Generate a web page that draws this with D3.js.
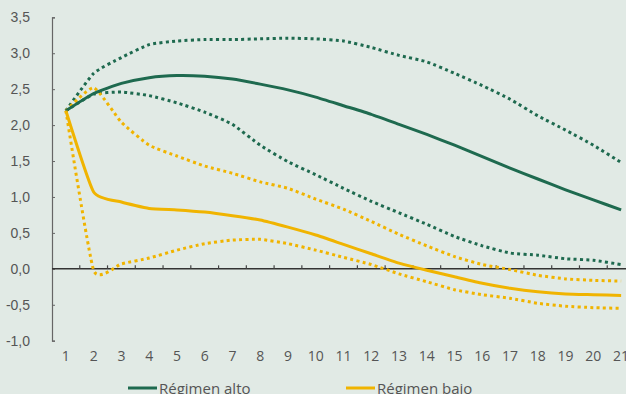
<!DOCTYPE html>
<html lang="es">
<head>
<meta charset="UTF-8">
<title>Régimen alto / bajo</title>
<script src="https://d3js.org/d3.v7.min.js"></script>
<style>
    html, body { margin: 0; padding: 0; background: #e1eae5; overflow: hidden; }
    svg { display: block; font-family: "Open Sans", sans-serif; }
    .tick-label { fill: #555; font-size: 14px; }
    .legend-text { fill: #555; font-size: 15px; }
</style>
</head>
<body>
<svg id="chart" width="626" height="394"></svg>
<script>
    // periods on the x axis
    const periods = ["1","2","3","4","5","6","7","8","9","10","11","12","13","14","15","16","17","18","19","20","21"];
    const yTicks = [-1, -0.5, 0, 0.5, 1, 1.5, 2, 2.5, 3, 3.5];

    // Régimen alto
    const altoMid = [2.2,2.44,2.58,2.66,2.69,2.68,2.64,2.57,2.49,2.39,2.27,2.15,2.01,1.87,1.72,1.56,1.40,1.25,1.10,0.96,0.82];
    const altoUp  = [2.2,2.72,2.94,3.12,3.17,3.19,3.19,3.20,3.21,3.20,3.17,3.08,2.97,2.88,2.72,2.55,2.36,2.13,1.93,1.72,1.48];
    const altoLow = [2.2,2.43,2.46,2.41,2.31,2.18,2.01,1.72,1.49,1.31,1.12,0.94,0.78,0.62,0.45,0.32,0.22,0.19,0.14,0.12,0.06];

    // Régimen bajo
    const bajoMid = [2.2,1.07,0.93,0.84,0.82,0.79,0.74,0.68,0.58,0.47,0.34,0.21,0.08,-0.02,-0.11,-0.20,-0.27,-0.32,-0.35,-0.36,-0.37];
    const bajoUp  = [2.2,2.52,2.04,1.72,1.57,1.43,1.33,1.21,1.12,0.97,0.83,0.66,0.48,0.32,0.17,0.06,-0.01,-0.09,-0.14,-0.16,-0.17];
    const bajoLow = [2.2,-0.02,0.07,0.15,0.26,0.35,0.40,0.41,0.35,0.26,0.16,0.06,-0.07,-0.18,-0.29,-0.36,-0.41,-0.48,-0.52,-0.54,-0.55];

    const green = "#1e6a4f";
    const yellow = "#f0b400";

    const svg = d3.select("#chart");

    const x = d3.scaleBand().domain(periods).range([52, 635]).paddingInner(0).paddingOuter(0);
    const y = d3.scaleLinear().domain([-1, 3.5]).range([340.7, 17.3]);
    const cx = d => x(d) + x.bandwidth() / 2;

    // y axis
    const yAxis = svg.append("g")
        .attr("transform", "translate(52,0)")
        .call(d3.axisRight(y).tickValues(yTicks).tickSize(3).tickFormat(d => d3.format(".1f")(d).replace(".", ",").replace("−", "-")));
    yAxis.select(".domain").attr("stroke", "#666").attr("stroke-width", 1.2);
    yAxis.selectAll(".tick line").attr("stroke", "#666");
    yAxis.selectAll(".tick text")
        .attr("class", "tick-label")
        .attr("x", -22)
        .attr("text-anchor", "end")
        .attr("fill", null);

    // zero line with ticks between periods
    const xAxis = svg.append("g")
        .attr("transform", `translate(0,${y(0)})`);
    xAxis.append("line")
        .attr("x1", 52).attr("x2", 626)
        .attr("stroke", "#333").attr("stroke-width", 1.5);
    xAxis.selectAll(".xt")
        .data(periods.slice(1))
        .enter().append("line")
        .attr("x1", d => x(d)).attr("x2", d => x(d))
        .attr("y1", 0).attr("y2", -3.5)
        .attr("stroke", "#444").attr("stroke-width", 1.2);

    // x labels below the plot
    svg.append("g").selectAll("text")
        .data(periods)
        .enter().append("text")
        .attr("class", "tick-label")
        .attr("x", cx)
        .attr("y", 361)
        .attr("text-anchor", "middle")
        .text(d => d);

    const line = d3.line()
        .x((d, i) => cx(periods[i]))
        .y(d => y(d))
        .curve(d3.curveCardinal.tension(0.5));

    const series = [
        { values: altoUp, color: green, dotted: true },
        { values: altoLow, color: green, dotted: true },
        { values: bajoUp, color: yellow, dotted: true },
        { values: bajoLow, color: yellow, dotted: true },
        { values: altoMid, color: green, dotted: false },
        { values: bajoMid, color: yellow, dotted: false }
    ];

    svg.append("g").selectAll("path")
        .data(series)
        .enter().append("path")
        .attr("d", d => line(d.values))
        .attr("fill", "none")
        .attr("stroke", d => d.color)
        .attr("stroke-width", 3)
        .attr("stroke-dasharray", d => d.dotted ? "3,3.3" : null);

    // legend
    const legend = [
        { label: "Régimen alto", color: green, x: 128 },
        { label: "Régimen bajo", color: yellow, x: 346 }
    ];
    const lg = svg.append("g").selectAll("g")
        .data(legend)
        .enter().append("g")
        .attr("transform", d => `translate(${d.x},388)`);
    lg.append("line")
        .attr("x1", 0).attr("x2", 29)
        .attr("stroke", d => d.color)
        .attr("stroke-width", 3);
    lg.append("text")
        .attr("class", "legend-text")
        .attr("x", 31)
        .attr("y", 6)
        .text(d => d.label);
</script>
</body>
</html>
